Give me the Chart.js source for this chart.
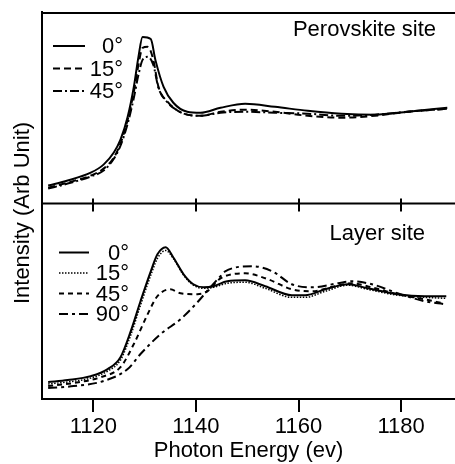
<!DOCTYPE html>
<html>
<head>
<meta charset="utf-8">
<script src="https://cdn.jsdelivr.net/npm/chart.js@4.4.1/dist/chart.umd.min.js"></script>
<style>
  html, body { margin: 0; padding: 0; background: #fff; }
  #wrap { width: 455px; height: 464px; }
</style>
</head>
<body>
<div id="wrap"><canvas id="Mychart"></canvas></div>
<script>
const FONT = '"Liberation Sans", Arial, Helvetica, sans-serif';

const xTicks = [1120, 1140, 1160, 1180];

// Perovskite site (top panel), intensity in arb. units
const topE0 = [1111.2, 1115.0, 1119.5, 1122.0, 1124.0, 1125.3, 1126.7, 1127.9, 1128.8, 1129.6, 1131.2, 1132.1, 1133.7, 1135.6, 1138.3, 1140.9, 1144.8, 1149.6, 1155.4, 1161.8, 1168.4, 1174.9, 1181.3, 1189.0];
const top0 = [0.94, 1.20, 1.61, 2.03, 2.66, 3.33, 4.53, 6.09, 7.66, 8.70, 8.59, 7.50, 6.09, 5.26, 4.79, 4.74, 5.00, 5.21, 5.05, 4.84, 4.69, 4.64, 4.79, 5.00];
const topE = [1111.2, 1115.0, 1119.5, 1122.0, 1124.0, 1125.3, 1126.7, 1127.9, 1128.8, 1129.6, 1130.6, 1131.7, 1132.7, 1134.5, 1136.5, 1138.3, 1140.9, 1144.8, 1149.6, 1155.4, 1161.8, 1168.4, 1174.9, 1181.3, 1189.0];
const top15 = [0.83, 1.09, 1.46, 1.82, 2.40, 3.13, 4.38, 5.83, 7.24, 8.13, 8.18, 7.50, 6.09, 5.31, 4.84, 4.64, 4.58, 4.79, 4.90, 4.79, 4.58, 4.48, 4.58, 4.79, 4.95];
const top45 = [0.78, 1.04, 1.41, 1.72, 2.34, 3.02, 4.17, 5.52, 6.72, 7.50, 7.66, 7.24, 6.04, 5.26, 4.84, 4.64, 4.58, 4.74, 4.79, 4.74, 4.69, 4.58, 4.64, 4.79, 4.95];

// Layer site (bottom panel)
const layE0 = [1111.2, 1115.0, 1119.5, 1122.8, 1125.3, 1127.3, 1129.2, 1131.2, 1132.5, 1134.1, 1135.6, 1137.6, 1139.5, 1141.5, 1143.4, 1146.1, 1149.6, 1153.5, 1158.7, 1161.3, 1165.2, 1169.6, 1173.5, 1179.3, 1184.6, 1188.8];
const lay0 = [0.87, 0.97, 1.17, 1.53, 2.14, 3.47, 5.00, 6.53, 7.40, 7.76, 7.24, 6.38, 5.87, 5.71, 5.77, 6.02, 6.07, 5.77, 5.31, 5.31, 5.61, 5.87, 5.66, 5.36, 5.26, 5.26];
const lay15 = [0.77, 0.87, 1.07, 1.43, 1.99, 3.27, 4.80, 6.33, 7.19, 7.60, 7.19, 6.33, 5.82, 5.66, 5.71, 5.92, 5.97, 5.66, 5.20, 5.20, 5.51, 5.82, 5.61, 5.31, 5.20, 5.15];
const layE45 = [1111.2, 1116.2, 1121.5, 1125.3, 1127.9, 1130.6, 1132.5, 1135.0, 1137.0, 1140.3, 1142.2, 1144.8, 1149.6, 1154.1, 1158.7, 1162.6, 1167.1, 1170.4, 1174.3, 1179.3, 1184.6, 1188.1];
const lay45 = [0.66, 0.82, 1.12, 1.63, 2.81, 4.34, 5.26, 5.61, 5.41, 5.36, 5.51, 6.17, 6.43, 6.12, 5.61, 5.51, 5.77, 5.92, 5.71, 5.36, 5.10, 4.90];
const layE90 = [1111.2, 1116.2, 1122.0, 1126.7, 1129.2, 1133.1, 1137.0, 1140.3, 1142.8, 1144.8, 1145.7, 1151.0, 1154.9, 1158.7, 1162.6, 1167.7, 1170.4, 1174.3, 1179.3, 1184.6, 1188.5];
const lay90 = [0.56, 0.66, 0.92, 1.53, 2.30, 3.32, 4.08, 4.95, 5.71, 6.28, 6.53, 6.79, 6.53, 5.87, 5.71, 5.92, 6.02, 5.87, 5.41, 5.00, 4.85];

function pts(xs, ys) {
    return xs.map((x, i) => ({ x: x, y: ys[i] }));
}

function line(label, xs, ys, axis, dash, width) {
    return {
        label: label,
        data: pts(xs, ys),
        yAxisID: axis,
        borderColor: '#000',
        borderWidth: width,
        borderDash: dash,
        pointRadius: 0,
        fill: false,
        cubicInterpolationMode: 'monotone',
        panel: axis
    };
}

// frame lines, middle divider, panel names, in-panel legends, y title
const panelDeco = {
    id: 'panelDeco',
    afterDraw(chart) {
        const { ctx, chartArea: a, scales } = chart;
        const yT = scales.yTop, yB = scales.yBot;
        ctx.save();
        ctx.strokeStyle = '#000';
        ctx.lineWidth = 2;
        ctx.setLineDash([]);
        ctx.beginPath();
        ctx.moveTo(a.left, a.top + 1);
        ctx.lineTo(a.right, a.top + 1);
        const mid = yT.bottom;
        ctx.moveTo(a.left, mid);
        ctx.lineTo(a.right, mid);
        xTicks.forEach(t => {
            const px = Math.round(scales.x.getPixelForValue(t));
            ctx.moveTo(px, mid - 5);
            ctx.lineTo(px, mid + 8);
        });
        ctx.stroke();

        ctx.fillStyle = '#000';
        ctx.font = '22px ' + FONT;
        ctx.textBaseline = 'middle';
        ctx.textAlign = 'right';
        ctx.fillText('Perovskite site', a.left + 394, yT.top + 18);
        ctx.fillText('Layer site', a.left + 383, yB.top + 30);

        // legends
        const legends = {
            yTop: { x0: a.left + 11, x1: a.left + 43, tx: a.left + 81, y: yT.top + 34, step: 22.5 },
            yBot: { x0: a.left + 17, x1: a.left + 47, tx: a.left + 87, y: yB.top + 49, step: 20.5 }
        };
        const rows = { yTop: 0, yBot: 0 };
        chart.data.datasets.forEach(ds => {
            const L = legends[ds.panel];
            const y = L.y + rows[ds.panel] * L.step;
            rows[ds.panel]++;
            ctx.lineWidth = ds.borderWidth;
            ctx.setLineDash(ds.borderDash);
            ctx.beginPath();
            ctx.moveTo(L.x0, y);
            ctx.lineTo(L.x1, y);
            ctx.stroke();
            ctx.fillText(ds.label, L.tx, y + 1);
        });

        ctx.setLineDash([]);
        ctx.translate(23, 213);
        ctx.rotate(-Math.PI / 2);
        ctx.textAlign = 'center';
        ctx.fillText('Intensity (Arb Unit)', 0, 0);
        ctx.restore();
    }
};

const canvas = document.getElementById('Mychart');

var chart = new Chart(canvas, {
    type: 'line',
    data: {
        datasets: [
            line('0°', topE0, top0, 'yTop', [], 2),
            line('15°', topE, top15, 'yTop', [7, 4], 2),
            line('45°', topE, top45, 'yTop', [9, 3, 2, 3], 2),
            line('0°', layE0, lay0, 'yBot', [], 2),
            line('15°', layE0, lay15, 'yBot', [1.5, 1.5], 1.5),
            line('45°', layE45, lay45, 'yBot', [5, 4], 2),
            line('90°', layE90, lay90, 'yBot', [9, 4, 3, 4], 2)
        ]
    },
    options: {
        responsive: true,
        maintainAspectRatio: false,
        animation: false,
        layout: { padding: { left: 34, top: 12, right: 0, bottom: 0 } },
        plugins: {
            legend: { display: false },
            tooltip: { enabled: false }
        },
        scales: {
            x: {
                type: 'linear',
                min: 1110,
                max: 1190.5,
                afterBuildTicks: s => { s.ticks = xTicks.map(v => ({ value: v })); },
                ticks: {
                    color: '#000',
                    font: { family: FONT, size: 22 },
                    padding: 2,
                    maxRotation: 0,
                    callback: v => String(v)
                },
                grid: { drawOnChartArea: false, tickLength: 13, lineWidth: 2, color: '#000' },
                border: { display: true, color: '#000', width: 2 },
                title: {
                    display: true,
                    text: 'Photon Energy (ev)',
                    color: '#000',
                    font: { family: FONT, size: 22, lineHeight: 0.8 },
                    padding: { top: 0, bottom: 4 }
                }
            },
            yBot: {
                type: 'linear',
                position: 'left',
                stack: 'panels',
                stackWeight: 196,
                min: 0,
                max: 10,
                ticks: { display: false },
                grid: { display: false },
                border: { display: true, color: '#000', width: 2 }
            },
            yTop: {
                type: 'linear',
                position: 'left',
                stack: 'panels',
                stackWeight: 192,
                min: 0,
                max: 10,
                ticks: { display: false },
                grid: { display: false },
                border: { display: true, color: '#000', width: 2 }
            }
        }
    },
    plugins: [panelDeco]
});
</script>
</body>
</html>
